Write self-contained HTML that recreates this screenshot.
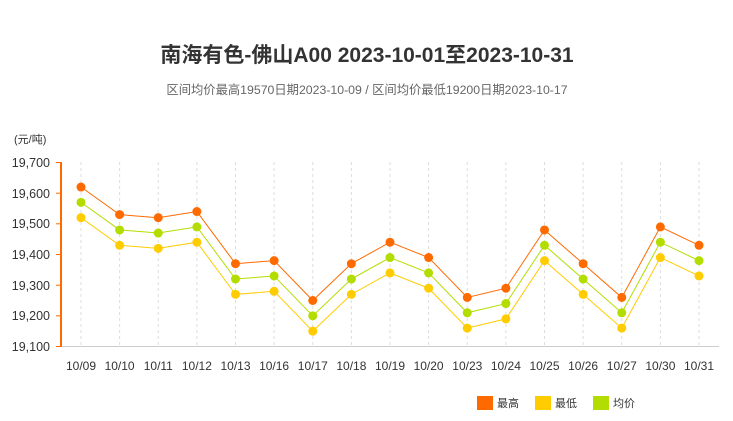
<!DOCTYPE html>
<html><head><meta charset="utf-8"><style>
html,body{margin:0;padding:0;background:#fff;width:733px;height:421px;overflow:hidden}
svg text{font-family:"Liberation Sans","Noto Sans CJK SC",sans-serif}
</style></head><body>
<svg id="s" width="733" height="421" xmlns="http://www.w3.org/2000/svg">
<text x="367" y="62" text-anchor="middle" font-size="21" font-weight="bold" fill="#333">南海有色-佛山A00 2023-10-01至2023-10-31</text>
<text x="367" y="94" text-anchor="middle" font-size="12.3" fill="#666">区间均价最高19570日期2023-10-09 / 区间均价最低19200日期2023-10-17</text>
<text x="14" y="143" font-size="11" fill="#333">(元/吨)</text>
<g font-size="12.5" fill="#333" text-anchor="end">
<text x="50" y="167">19,700</text><text x="50" y="198">19,600</text><text x="50" y="228">19,500</text>
<text x="50" y="259">19,400</text><text x="50" y="290">19,300</text><text x="50" y="320">19,200</text><text x="50" y="351">19,100</text>
</g>
<g font-size="12" fill="#333" text-anchor="middle">
<text x="81" y="370">10/09</text><text x="119.6" y="370">10/10</text><text x="158.3" y="370">10/11</text><text x="196.9" y="370">10/12</text>
<text x="235.5" y="370">10/13</text><text x="274.1" y="370">10/16</text><text x="312.8" y="370">10/17</text><text x="351.4" y="370">10/18</text>
<text x="390" y="370">10/19</text><text x="428.6" y="370">10/20</text><text x="467.3" y="370">10/23</text><text x="505.9" y="370">10/24</text>
<text x="544.5" y="370">10/25</text><text x="583.1" y="370">10/26</text><text x="621.8" y="370">10/27</text><text x="660.4" y="370">10/30</text><text x="699" y="370">10/31</text>
</g>
<g id="g"></g>
<line x1="61" y1="346.5" x2="719" y2="346.5" stroke="#ccc"/>
<line x1="61" y1="162" x2="61" y2="347" stroke="#ff6a00" stroke-width="2"/>
<g stroke="#ff6a00"><line x1="56" x2="61" y1="162.5" y2="162.5"/><line x1="56" x2="61" y1="193.2" y2="193.2"/><line x1="56" x2="61" y1="223.8" y2="223.8"/><line x1="56" x2="61" y1="254.5" y2="254.5"/><line x1="56" x2="61" y1="285.2" y2="285.2"/><line x1="56" x2="61" y1="315.8" y2="315.8"/><line x1="56" x2="61" y1="346.5" y2="346.5"/></g>
<rect x="477" y="396" width="16" height="14" fill="#ff6a00"/><text x="497" y="407" font-size="11" fill="#333">最高</text>
<rect x="535" y="396" width="16" height="14" fill="#ffcc00"/><text x="555" y="407" font-size="11" fill="#333">最低</text>
<rect x="593" y="396" width="16" height="14" fill="#b3dd00"/><text x="613" y="407" font-size="11" fill="#333">均价</text>
</svg>
<script>
var H=[19620,19530,19520,19540,19370,19380,19250,19370,19440,19390,19260,19290,19480,19370,19260,19490,19430];
var L=[19520,19430,19420,19440,19270,19280,19150,19270,19340,19290,19160,19190,19380,19270,19160,19390,19330];
var A=[19570,19480,19470,19490,19320,19330,19200,19320,19390,19340,19210,19240,19430,19320,19210,19440,19380];
var g=document.getElementById('g'),h='';
function X(i){return 81+38.625*i}function Y(v){return 346.5-(v-19100)*0.3067}
for(var i=0;i<17;i++)h+='<line x1="'+X(i)+'" x2="'+X(i)+'" y1="162" y2="346" stroke="#ddd" stroke-dasharray="3,3"/>';
[[H,'#ff6a00'],[L,'#ffcc00'],[A,'#b3dd00']].forEach(function(s){
var p=s[0].map(function(v,i){return X(i)+','+Y(v)}).join(' ');
h+='<polyline points="'+p+'" fill="none" stroke="'+s[1]+'" stroke-width="1"/>';
s[0].forEach(function(v,i){h+='<circle cx="'+X(i)+'" cy="'+Y(v)+'" r="4.5" fill="'+s[1]+'"/>'});});
g.innerHTML=h;
</script>
</body></html>
